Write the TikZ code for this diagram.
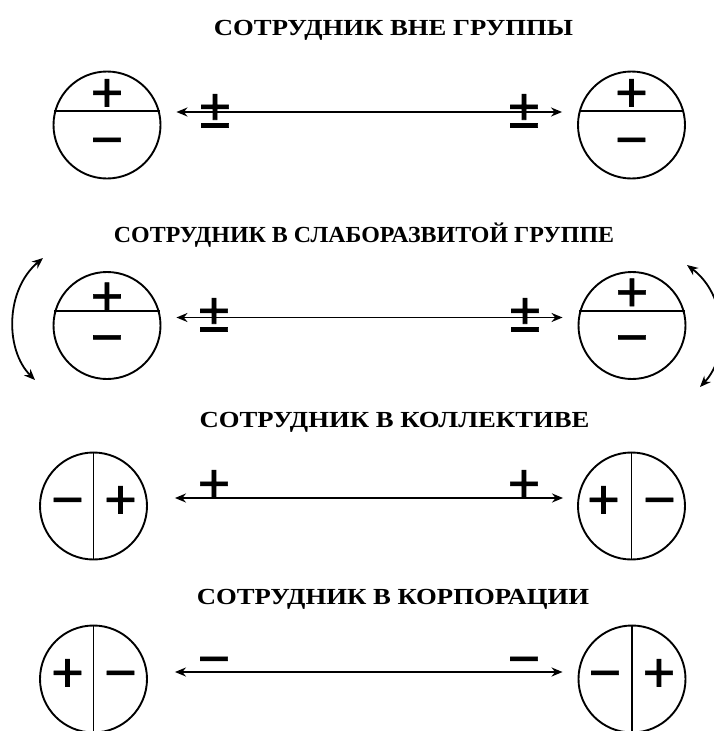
\documentclass[tikz,border=0pt]{standalone}
\usepackage{fontspec}
\setmainfont{Liberation Serif}
\newfontfamily\signfont[FakeBold=1.2]{Liberation Sans}
\newfontfamily\titlefont[FakeStretch=1.16]{Liberation Serif}
\newfontfamily\narrowtitlefont[FakeStretch=1.04]{Liberation Serif}
\usetikzlibrary{arrows.meta}

\tikzset{
  disc/.style={circle, draw, line width=1.9pt, minimum size=107pt, inner sep=0pt},
  split/.style={line width=1.9pt},
  sign/.style={font=\signfont\fontsize{56}{60}\selectfont, inner sep=0pt, text height=39pt, text depth=0pt},
  title/.style={font=\titlefont\bfseries\fontsize{23}{28}\selectfont, anchor=base},
  link/.style={{Stealth[length=11pt,width=9pt]}-{Stealth[length=11pt,width=9pt]}, line width=1.8pt},
}

\begin{document}
\begin{tikzpicture}[x=1pt, y=-1pt]
    \useasboundingbox (0,0) rectangle (713,731);

    % outside the group
    \node[title] (t1) at (393.5,35) {СОТРУДНИК ВНЕ ГРУППЫ};
    \node[disc] (l1) at (107,125) {};
    \node[disc] (r1) at (631.5,125) {};
    \draw[split] (l1.165) -- (l1.15);
    \draw[split] (r1.165) -- (r1.15);
    \node[sign] (l1p) at ([yshift=33pt]l1.center) {+};
    \node[sign] (l1m) at ([yshift=-14pt]l1.center) {−};
    \node[sign] (r1p) at ([yshift=33pt]r1.center) {+};
    \node[sign] (r1m) at ([yshift=-14pt]r1.center) {−};
    \draw[link, shorten <=15pt, shorten >=15pt] ([yshift=13pt]l1.east) -- ([yshift=13pt]r1.west);
    \node[sign] (a1l) at (215,108) {±};
    \node[sign] (a1r) at (524,108) {±};

    % weakly developed group
    \node[title, font=\narrowtitlefont\bfseries\fontsize{23}{28}\selectfont] (t2) at (364,242) {СОТРУДНИК В СЛАБОРАЗВИТОЙ ГРУППЕ};
    \node[disc] (l2) at (107,325.5) {};
    \node[disc] (r2) at (632,325.5) {};
    \draw[split] (l2.165) -- (l2.15);
    \draw[split] (r2.165) -- (r2.15);
    \node[sign] (l2p) at ([yshift=30pt]l2.center) {+};
    \node[sign] (l2m) at ([yshift=-11pt]l2.center) {−};
    \node[sign] (r2p) at ([yshift=34pt]r2.center) {+};
    \node[sign] (r2m) at ([yshift=-11pt]r2.center) {−};
    \draw[link, shorten <=15pt, shorten >=15pt] ([yshift=8pt]l2.east) -- ([yshift=8pt]r2.west);
    \node[sign] (a2l) at (214,312) {±};
    \node[sign] (a2r) at (525,312) {±};
    \coordinate (c2a) at (43,258);
    \coordinate (c2b) at (35,380);
    \coordinate (c2c) at (687,265);
    \coordinate (c2d) at (700,387);
    \draw[link] (c2a) .. controls (5,290) and (5,350) .. (c2b);
    \draw[link] (c2c) .. controls (727,295) and (730,355) .. (c2d);

    % collective
    \node[title] (t3) at (394.5,427) {СОТРУДНИК В КОЛЛЕКТИВЕ};
    \node[disc] (l3) at (93.5,506) {};
    \node[disc] (r3) at (631.5,506) {};
    \draw[split] (l3.north) -- (l3.south);
    \draw[split] (r3.north) -- (r3.south);
    \node[sign] (l3m) at ([xshift=-26pt,yshift=7pt]l3.center) {−};
    \node[sign] (l3p) at ([xshift=27pt,yshift=7pt]l3.center) {+};
    \node[sign] (r3p) at ([xshift=-28pt,yshift=7pt]r3.center) {+};
    \node[sign] (r3m) at ([xshift=28pt,yshift=7pt]r3.center) {−};
    \draw[link, shorten <=27pt, shorten >=14pt] ([yshift=8pt]l3.east) -- ([yshift=8pt]r3.west);
    \node[sign] (a3l) at (214,483) {+};
    \node[sign] (a3r) at (524,483) {+};

    % corporation
    \node[title] (t4) at (393,604) {СОТРУДНИК В КОРПОРАЦИИ};
    \node[disc] (l4) at (93.5,679) {};
    \node[disc] (r4) at (632,679) {};
    \draw[split] (l4.north) -- (l4.south);
    \draw[split] (r4.north) -- (r4.south);
    \node[sign] (l4p) at ([xshift=-26pt,yshift=7pt]l4.center) {+};
    \node[sign] (l4m) at ([xshift=27pt,yshift=7pt]l4.center) {−};
    \node[sign] (r4m) at ([xshift=-27pt,yshift=7pt]r4.center) {−};
    \node[sign] (r4p) at ([xshift=27pt,yshift=7pt]r4.center) {+};
    \draw[link, shorten <=27pt, shorten >=15pt] ([yshift=7pt]l4.east) -- ([yshift=7pt]r4.west);
    \node[sign] (a4l) at (214,658) {−};
    \node[sign] (a4r) at (524,658) {−};
\end{tikzpicture}
\end{document}
